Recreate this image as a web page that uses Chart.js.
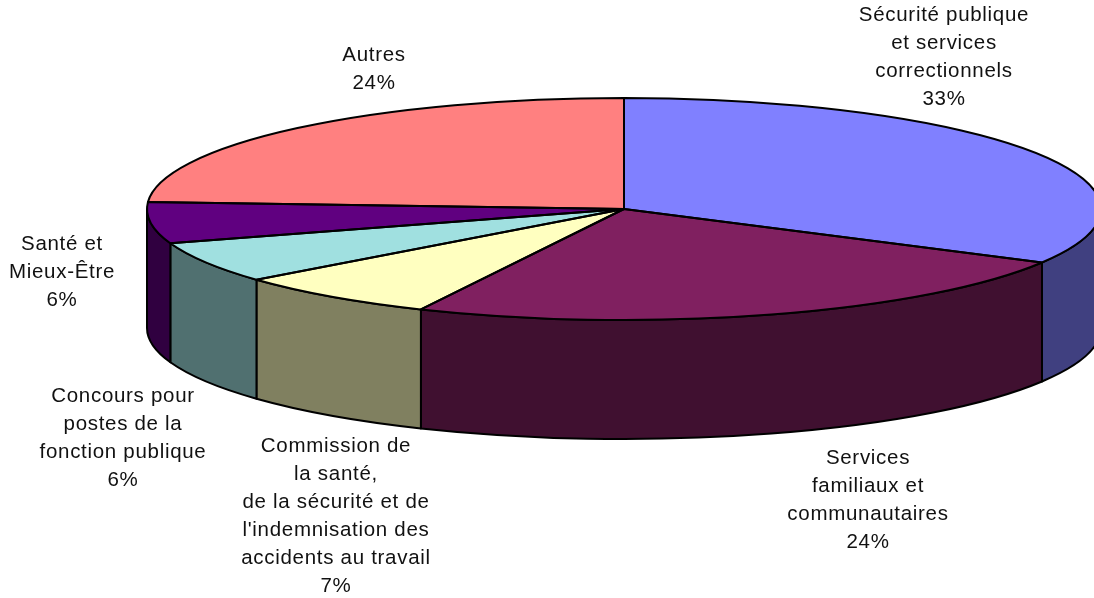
<!DOCTYPE html>
<html lang="fr">
<head>
<meta charset="utf-8">
<script src="https://cdn.jsdelivr.net/npm/chart.js@4/dist/chart.umd.min.js"></script>
<style>html,body{margin:0;padding:0;background:#fff}canvas{display:block}</style>
</head>
<body>
<canvas id="c" width="1094" height="598"></canvas>
<script>
const categories = [
  ["Sécurité publique","et services","correctionnels"],
  ["Services","familiaux et","communautaires"],
  ["Commission de","la santé,","de la sécurité et de","l'indemnisation des","accidents au travail"],
  ["Concours pour","postes de la","fonction publique"],
  ["Santé et","Mieux-Être"],
  ["Autres"]
];
const values = [33, 24, 7, 6, 6, 24];
const topColors = ["#8080FF","#802060","#FFFFC0","#A0E0E0","#600080","#FF8080"];
const sideColors = ["#404080","#401030","#808060","#507070","#300040","#804040"];
const labelAnchors = [[944,15],[868,458],[336,446],[123,396],[62,244],[374,55]];

const RX = 477, RY = 111, DEPTH = 119, R = 200;
const SX = RX / R, SY = RY / R;

function squash(ctx, a) {
  ctx.translate(a.x, a.y);
  ctx.scale(SX, SY);
  ctx.translate(-a.x, -a.y);
}

const pie3d = {
  id: 'pie3d',
  beforeDatasetsDraw(chart) {
    const ctx = chart.ctx;
    const arcs = chart.getDatasetMeta(0).data;
    const d = DEPTH / SY;
    ctx.lineJoin = 'round';
    arcs.forEach((a, i) => {
      const s = Math.max(a.startAngle, 0), e = Math.min(a.endAngle, Math.PI);
      if (e <= s) return;
      ctx.save();
      squash(ctx, a);
      ctx.beginPath();
      ctx.arc(a.x, a.y, a.outerRadius, s, e);
      ctx.arc(a.x, a.y + d, a.outerRadius, e, s, true);
      ctx.closePath();
      ctx.restore();
      ctx.fillStyle = sideColors[i];
      ctx.fill();
      ctx.strokeStyle = '#000';
      ctx.lineWidth = 2;
      ctx.stroke();
    });
    ctx.save();
    squash(ctx, arcs[0]);
  },
  afterDatasetsDraw(chart) {
    const ctx = chart.ctx;
    ctx.restore();
    const arcs = chart.getDatasetMeta(0).data;
    arcs.forEach(a => {
      ctx.save();
      squash(ctx, a);
      ctx.beginPath();
      ctx.moveTo(a.x, a.y);
      ctx.arc(a.x, a.y, a.outerRadius, a.startAngle, a.endAngle);
      ctx.closePath();
      ctx.restore();
      ctx.strokeStyle = '#000';
      ctx.lineWidth = 2;
      ctx.lineJoin = 'round';
      ctx.stroke();
    });
    ctx.save();
    ctx.fillStyle = '#111';
    ctx.font = '20.5px "Liberation Sans", Arial, sans-serif';
    ctx.letterSpacing = '0.7px';
    ctx.textAlign = 'center';
    ctx.textBaseline = 'middle';
    categories.forEach((lines, i) => {
      const [x, y] = labelAnchors[i];
      lines.concat(values[i] + '%').forEach((t, k) => ctx.fillText(t, x, y + k * 28));
    });
    ctx.restore();
  }
};

new Chart(document.getElementById('c'), {
  type: 'pie',
  data: {
    labels: categories.map(l => l.join(' ')),
    datasets: [{ data: values, backgroundColor: topColors, borderWidth: 0 }]
  },
  options: {
    responsive: false,
    animation: false,
    layout: { padding: { left: 424, right: 270, top: 9, bottom: 189 } },
    plugins: { legend: { display: false }, tooltip: { enabled: false } }
  },
  plugins: [pie3d]
});
</script>
</body>
</html>
